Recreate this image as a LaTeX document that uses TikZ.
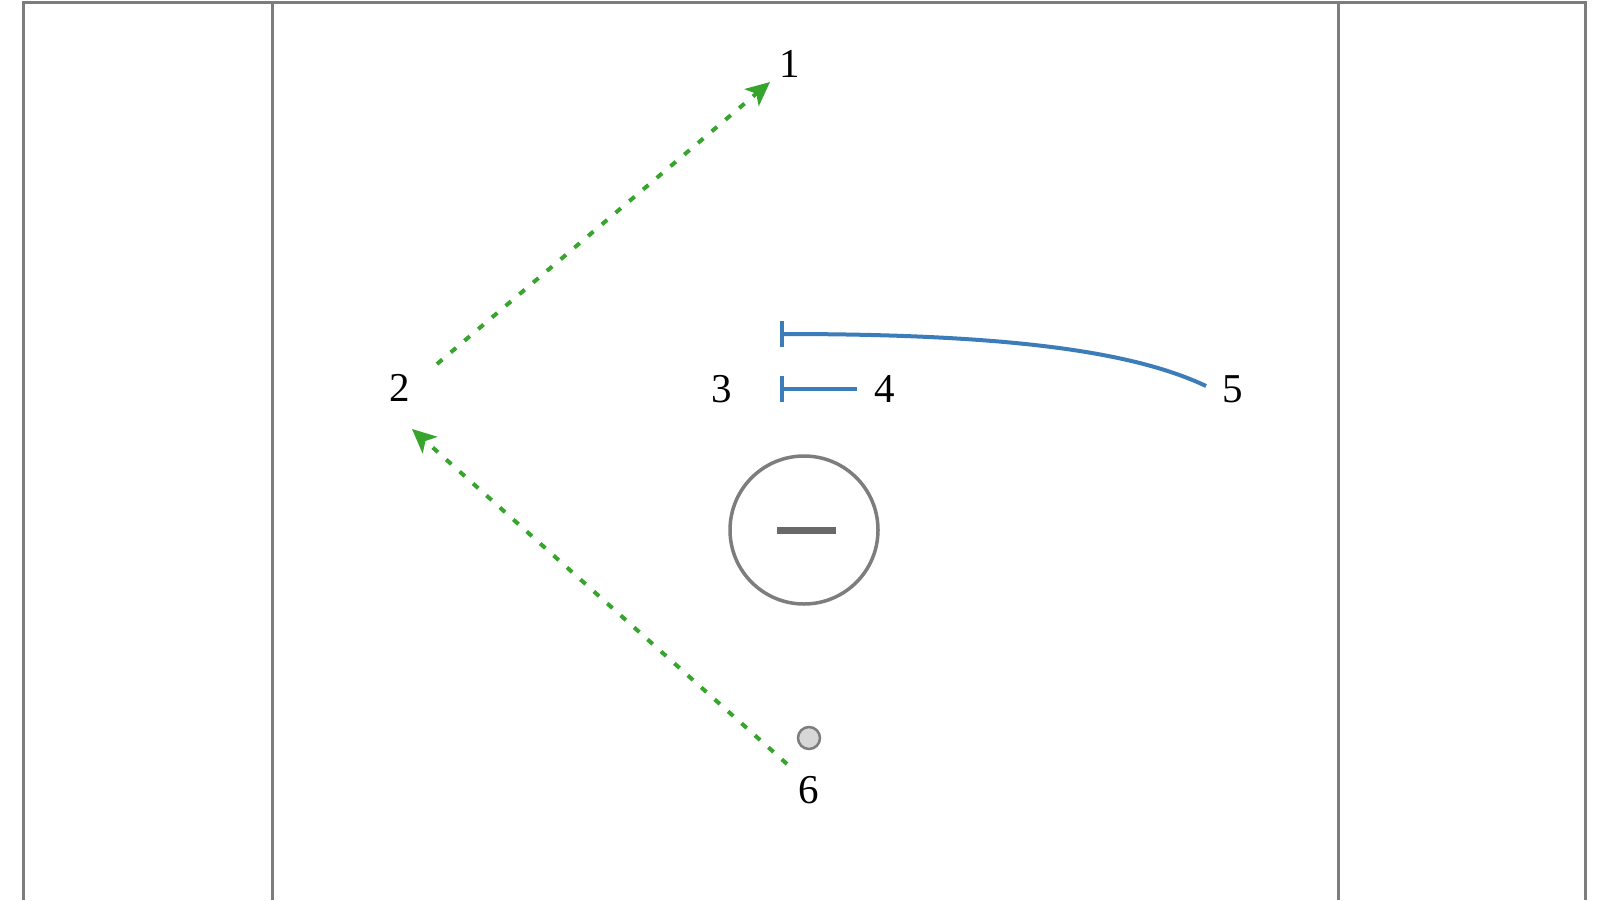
\documentclass[tikz,border=0pt]{standalone}
\usepackage{fontspec}
\setmainfont{Liberation Serif}
\usetikzlibrary{arrows.meta}
\definecolor{frame}{RGB}{125,125,125}
\definecolor{route}{RGB}{55,165,45}
\definecolor{block}{RGB}{60,125,185}
\definecolor{ballfill}{RGB}{215,215,215}
\definecolor{minusbar}{RGB}{105,105,105}
\tikzset{
  lbl/.style={font=\fontsize{41}{49}\selectfont, text=black, inner sep=0pt},
  frameline/.style={draw=frame, line width=3pt},
  routearrow/.style={draw=route, line width=4pt, dash pattern=on 7pt off 11pt, -{Stealth[length=24pt,width=22pt,inset=6pt]}},
  blockline/.style={draw=block, line width=4pt, {Bar[width=26pt,line width=4pt]}-},
  centerball/.style={circle, draw=frame, line width=3.5pt, minimum size=148pt, inner sep=0pt},
  smallball/.style={circle, draw=frame, fill=ballfill, line width=2.5pt, minimum size=22pt, inner sep=0pt}
}
\begin{document}
\begin{tikzpicture}[x=1pt,y=-1pt]
\useasboundingbox (0,0) rectangle (1600,900);
\fill[white] (0,0) rectangle (1600,900);
% frame
\coordinate (fTL) at (23,2);
\coordinate (fTR) at (1585,2);
\coordinate (fBL) at (23,900);
\coordinate (fBR) at (1585,900);
\coordinate (iTL) at (272,2);
\coordinate (iBL) at (272,900);
\coordinate (iTR) at (1338,2);
\coordinate (iBR) at (1338,900);
\draw[frameline] (fBL) -- (fTL) -- (fTR) -- (fBR);
\draw[frameline] (iTL) -- (iBL);
\draw[frameline] (iTR) -- (iBR);
% labels
\node[lbl] (l1) at (790,64) {1};
\node[lbl] (l2) at (400,388) {2};
\node[lbl] (l3) at (722,389) {3};
\node[lbl] (l4) at (885,389) {4};
\node[lbl] (l5) at (1233,389) {5};
\node[lbl] (l6) at (809,790) {6};
% center circle with minus
\node[centerball] (ball) at (804,530) {};
\coordinate (mL) at (777,530);
\coordinate (mR) at (836,530);
\draw[draw=minusbar, line width=7pt] (mL) -- (mR);
% small ball
\node[smallball] (sball) at (809,738) {};
% green routes
\coordinate (r1s) at (437,364);
\coordinate (r1e) at (770,82);
\coordinate (r2s) at (787,764);
\coordinate (r2e) at (412,429);
\draw[routearrow] (r1s) -- (r1e);
\draw[routearrow] (r2s) -- (r2e);
% blue blocks
\coordinate (b1s) at (780,389);
\coordinate (b1e) at (857,389);
\draw[blockline] (b1s) -- (b1e);
\coordinate (b2s) at (780,334);
\coordinate (b2e) at (1206,386);
\draw[blockline] (b2s) .. controls (1000,334) and (1130,350) .. (b2e);
\end{tikzpicture}
\end{document}
